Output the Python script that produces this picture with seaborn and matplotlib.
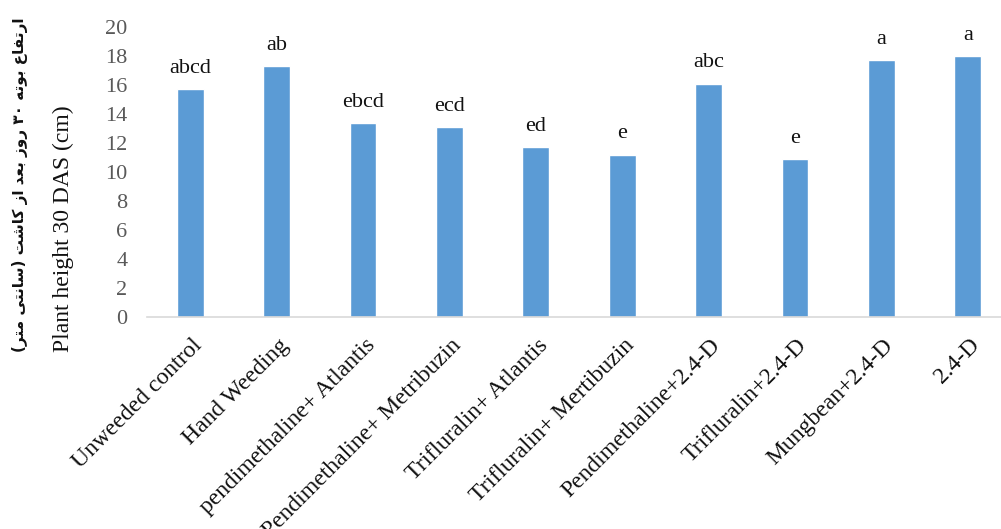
import matplotlib
matplotlib.use("Agg")
import matplotlib.pyplot as plt
import matplotlib.transforms as mtransforms
import seaborn as sns
import pandas as pd

# ---- data -------------------------------------------------------------
treatments = [
    "Unweeded control",
    "Hand Weeding",
    "pendimethaline+ Atlantis",
    "Pendimethaline+ Metribuzin",
    "Trifluralin+ Atlantis",
    "Trifluralin+ Mertibuzin",
    "Pendimethaline+2.4-D",
    "Trifluralin+2.4-D",
    "Mungbean+2.4-D",
    "2.4-D",
]
plant_height = [15.7, 17.3, 13.4, 13.1, 11.7, 11.2, 16.1, 10.9, 17.7, 18.0]
letters = ["abcd", "ab", "ebcd", "ecd", "ed", "e", "abc", "e", "a", "a"]
y_ticks = list(range(0, 21, 2))

ylabel_en = "Plant height 30 DAS (cm)"
ylabel_fa = "ارتفاع بوته ۳۰ روز بعد از کاشت (سانتی متر)"

BAR_COLOR = "#5B9BD5"


# ---- minimal Persian shaping (presentation forms + visual order) ------
# (isolated, final, initial, medial)
FORMS = {
    "ا": ("\uFE8D", "\uFE8E", None, None),
    "د": ("\uFEA9", "\uFEAA", None, None),
    "ر": ("\uFEAD", "\uFEAE", None, None),
    "ز": ("\uFEAF", "\uFEB0", None, None),
    "و": ("\uFEED", "\uFEEE", None, None),
    "ب": ("\uFE8F", "\uFE90", "\uFE91", "\uFE92"),
    "ت": ("\uFE95", "\uFE96", "\uFE97", "\uFE98"),
    "س": ("\uFEB1", "\uFEB2", "\uFEB3", "\uFEB4"),
    "ش": ("\uFEB5", "\uFEB6", "\uFEB7", "\uFEB8"),
    "ع": ("\uFEC9", "\uFECA", "\uFECB", "\uFECC"),
    "ف": ("\uFED1", "\uFED2", "\uFED3", "\uFED4"),
    "م": ("\uFEE1", "\uFEE2", "\uFEE3", "\uFEE4"),
    "ن": ("\uFEE5", "\uFEE6", "\uFEE7", "\uFEE8"),
    "ه": ("\uFEE9", "\uFEEA", "\uFEEB", "\uFEEC"),
    "ک": ("\uFB8E", "\uFB8F", "\uFB90", "\uFB91"),
    "ی": ("\uFBFC", "\uFBFD", "\uFBFE", "\uFBFF"),
}


def dual(c):
    return c in FORMS and FORMS[c][2] is not None


def shape_rtl(text):
    shaped = []
    for i, c in enumerate(text):
        if c not in FORMS:
            shaped.append(c)
            continue
        prev_c = text[i - 1] if i > 0 else ""
        next_c = text[i + 1] if i + 1 < len(text) else ""
        join_prev = dual(prev_c)
        join_next = dual(c) and next_c in FORMS
        iso, fin, ini, med = FORMS[c]
        if join_prev and join_next:
            shaped.append(med)
        elif join_prev:
            shaped.append(fin)
        elif join_next:
            shaped.append(ini)
        else:
            shaped.append(iso)
    # split into digit / non-digit runs, then lay out right-to-left
    runs, cur, cur_digit = [], "", None
    for c in shaped:
        is_digit = c.isdigit()
        if cur and is_digit != cur_digit:
            runs.append((cur, cur_digit))
            cur = ""
        cur += c
        cur_digit = is_digit
    if cur:
        runs.append((cur, cur_digit))
    mirror = {"(": ")", ")": "("}
    out = ""
    for run, is_digit in reversed(runs):
        if is_digit:
            out += run
        else:
            out += "".join(mirror.get(ch, ch) for ch in reversed(run))
    return out


# ---- figure -----------------------------------------------------------
sns.set_theme(style="white")
plt.rcParams["font.family"] = ["Liberation Serif", "DejaVu Serif"]

W, H = 1001, 529
fig = plt.figure(figsize=(W / 100, H / 100), dpi=100)
ax = fig.add_axes([147 / W, 1 - 317 / H, (1011 - 147) / W, (317 - 27) / H])

df = pd.DataFrame({"treatment": treatments, "height": plant_height})
sns.barplot(data=df, x="treatment", y="height", color=BAR_COLOR,
            saturation=1, width=0.31, ax=ax, errorbar=None)

ax.set_ylim(0, 20)
ax.set_xlim(-0.5, len(treatments) - 0.5)
ax.set_yticks(y_ticks)
ax.set_yticklabels([str(t) for t in y_ticks])
ax.tick_params(axis="y", length=0, pad=14, labelsize=16, labelcolor="#595959")
ax.tick_params(axis="x", length=0, pad=0, labelsize=17, labelcolor="#111111")
ax.set_xlabel("")
ax.set_ylabel("")

for side in ("left", "right", "top"):
    ax.spines[side].set_visible(False)
ax.spines["bottom"].set_color("#D9D9D9")
ax.spines["bottom"].set_linewidth(1.2)

# rotated category labels
offset = mtransforms.ScaledTranslation(9 / 100, -25 / 100, fig.dpi_scale_trans)
for lbl in ax.get_xticklabels():
    lbl.set_rotation(45)
    lbl.set_rotation_mode("anchor")
    lbl.set_ha("right")
    lbl.set_va("center")
    lbl.set_transform(lbl.get_transform() + offset)

# significance letters above the bars
for bar, txt in zip(ax.patches, letters):
    ax.annotate(txt, (bar.get_x() + bar.get_width() / 2, bar.get_height()),
                xytext=(0, 8), textcoords="offset points",
                ha="center", va="bottom", fontsize=16, color="#111111")

# axis titles (English and Persian)
fig.text(63 / W, 1 - 352 / H, ylabel_en, rotation=90, ha="center",
         va="bottom", fontsize=17, color="#111111")
fig.text(20 / W, 1 - 352 / H, shape_rtl(ylabel_fa), rotation=90,
         ha="center", va="bottom", fontsize=11, fontweight="bold",
         family=["DejaVu Sans"], color="#111111")

fig.savefig("out.png", dpi=100, facecolor="white")
